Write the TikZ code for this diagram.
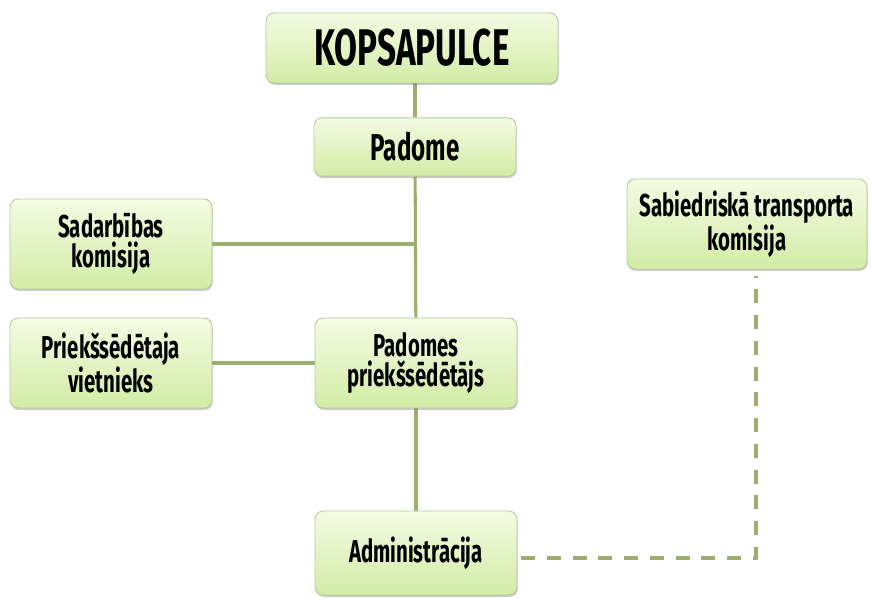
\documentclass[tikz,border=0pt]{standalone}
\usepackage{fontspec}
\setmainfont{Fira Sans}[FakeStretch=0.645]
\usetikzlibrary{shadows,backgrounds}
\definecolor{boxtop}{HTML}{F4FBE3}
\definecolor{boxbot}{HTML}{D2ECA6}
\definecolor{boxline}{HTML}{B9C9A0}
\definecolor{linkgreen}{HTML}{9CAF6E}

\begin{document}
\begin{tikzpicture}[x=0.03cm,y=-0.03cm,
	box/.style={draw=boxline,line width=0.8pt,rounded corners=7pt,top color=boxtop,bottom color=boxbot,
		drop shadow={shadow xshift=0.6pt,shadow yshift=-1.6pt,opacity=0.35,fill=black!60},
		minimum width=6.06cm,minimum height=2.7cm,align=center,inner sep=2pt,
		font=\fontsize{27}{25.5}\selectfont\bfseries},
	orgline/.style={draw=linkgreen,line width=2.6pt},
	dashline/.style={orgline,line width=2.8pt,dash pattern=on 12pt off 10pt}]
			\useasboundingbox (0,0) rectangle (871,598);
			\node[box,minimum width=8.76cm,minimum height=2.1cm,font=\fontsize{44}{46}\selectfont\bfseries] (kop) at (412,48) {KOPSAPULCE};
			\node[box,minimum height=1.75cm,font=\fontsize{32}{34}\selectfont\bfseries] (pad) at (415,147) {Padome};
			\node[box] (sad) at (111,244) {Sadarbības\\komisija};
			\node[box] (vie) at (111,363) {Priekšsēdētaja\\vietnieks};
			\node[box] (pps) at (416,363) {Padomes\\priekšsēdētājs};
			\node[box,minimum height=2.52cm] (adm) at (416,553) {Administrācija};
			\node[box,minimum width=7.2cm] (sab) at (747,224) {Sabiedriskā transporta\\komisija};
			\coordinate (bend) at (756,558);
			\begin{scope}[on background layer]
			\draw[orgline] (kop.south -| pad) -- (pad.north);
			\draw[orgline] (pad) -- (pps);
			\draw[orgline] (sad) -- (sad -| pad);
			\draw[orgline] (vie) -- (pps);
			\draw[orgline] (pps) -- (adm);
			\end{scope}
			\draw[dashline,shorten <=3pt,shorten >=6pt] (adm.east |- bend) -- (bend) -- (bend |- sab.south);
	\end{tikzpicture}
\end{document}
